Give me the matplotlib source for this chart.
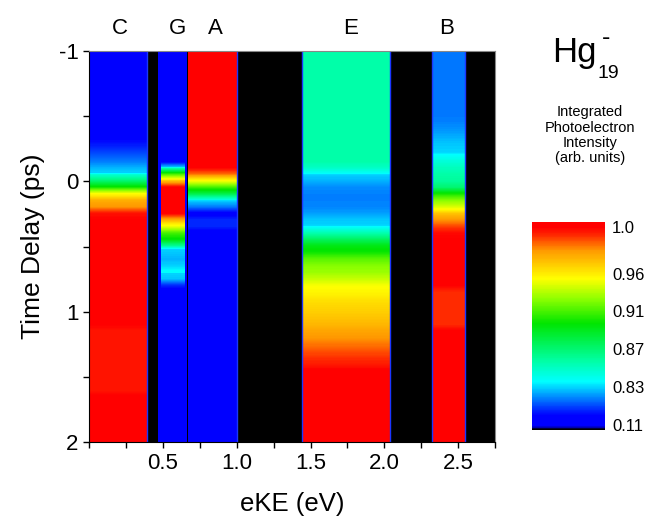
import numpy as np
import matplotlib
matplotlib.use('Agg')
import matplotlib.pyplot as plt
from matplotlib.colors import LinearSegmentedColormap, FuncNorm
from matplotlib.ticker import MultipleLocator

plt.rcParams['font.family'] = ['Liberation Sans', 'DejaVu Sans']
plt.rcParams['axes.unicode_minus'] = False

# time delay grid of the profiles (ps), one row every 0.05 ps
t_first, t_last, t_step = -1.0, 2.0, 0.05

# integrated photoelectron intensity vs. time delay for each band (61 rows)
band_C = ([0.2] * 13
          + [0.25, 0.32, 0.40, 0.50, 0.60, 0.75, 0.845, 0.87, 0.90, 0.955, 0.975, 0.98, 0.997]
          + [1.0] * 17 + [0.996] * 10 + [1.0] * 8)
band_G_outer = 0.2
band_G = ([0.2] * 18
          + [0.85, 0.91, 0.97, 1.0, 1.0, 1.0, 1.0, 1.0, 0.975, 0.95, 0.91, 0.895, 0.86,
             0.80, 0.75, 0.83, 0.838, 0.80, 0.40]
          + [0.2] * 24)
band_A = ([1.0] * 19
          + [0.985, 0.955, 0.91, 0.88, 0.84, 0.60, 0.25, 0.40, 0.40, 0.22]
          + [0.2] * 2 + [0.28] * 2 + [0.2] * 28)
band_E = ([0.857] * 18
          + [0.85, 0.836, 0.75, 0.65, 0.62, 0.62, 0.63, 0.70, 0.80, 0.836, 0.855, 0.875,
             0.893, 0.90, 0.915, 0.925, 0.93, 0.94, 0.952, 0.957, 0.962, 0.965, 0.967,
             0.97, 0.973, 0.977, 0.98, 0.984, 0.988, 0.992, 0.995]
          + [1.0] * 12)
band_B = ([0.6] * 11
          + [0.62, 0.66, 0.72, 0.78, 0.82, 0.836, 0.845, 0.852, 0.857, 0.86, 0.87, 0.90,
             0.925, 0.945, 0.97, 0.98, 0.99, 0.998]
          + [1.0] * 8 + [0.993] * 6 + [1.0] * 18)

# eKE ranges (eV) of the bands
range_C = (0.0, 0.392)
range_G_outer = (0.47, 0.66)
range_G = (0.489, 0.648)
range_A = (0.67, 1.003)
range_E = (1.443, 2.04)
range_B = (2.322, 2.543)

band_names = ['C', 'G', 'A', 'E', 'B']
band_label_x = [0.207, 0.60, 0.853, 1.768, 2.42]

# colour scale: tick values and where they sit on the bar
cbar_ticks = [0.11, 0.83, 0.87, 0.91, 0.96, 1.0]
cbar_ticklabels = ['0.11', '0.83', '0.87', '0.91', '0.96', '1.0']
scale_values = [0.0, 0.11, 0.83, 0.87, 0.91, 0.96, 1.0, 1.005]
scale_levels = [0.0, 0.024, 0.205, 0.387, 0.57, 0.749, 0.976, 1.0]

cmap = LinearSegmentedColormap.from_list('rainbow_origin', [
    (0.0, (0, 0, 0)), (0.012, (0, 0, 0.7)), (0.02, (0, 0, 1)), (0.07, (0, 0, 1)),
    (0.15, (0, 0.5, 1)), (0.232, (0, 1, 1)), (0.33, (0, 1, 0.65)),
    (0.512, (0, 0.9, 0)), (0.63, (0.55, 1, 0)), (0.728, (1, 1, 0)),
    (0.864, (1, 0.6, 0)), (0.94, (1, 0.15, 0)), (0.975, (1, 0, 0)), (1.0, (1, 0, 0))])


def fwd(v):
    return np.interp(v, scale_values, scale_levels)


def inv(v):
    return np.interp(v, scale_levels, scale_values)


norm = FuncNorm((fwd, inv), vmin=0.0, vmax=1.005)

fig = plt.figure(figsize=(6.49, 5.19), dpi=100)
ax = fig.add_axes([0.137, 0.148, 0.626, 0.754])
ax.set_facecolor('black')

extent_t = (t_last + t_step / 2, t_first - t_step / 2)
im = ax.imshow([[band_G_outer]], extent=(*range_G_outer, *extent_t), cmap=cmap, norm=norm,
               aspect='auto', origin='upper')
for (x0, x1), prof in [(range_C, band_C), (range_G, band_G), (range_A, band_A),
                       (range_E, band_E), (range_B, band_B)]:
    ax.imshow(np.array(prof)[:, None], extent=(x0, x1, *extent_t), cmap=cmap, norm=norm,
              interpolation='bilinear', interpolation_stage='data', aspect='auto',
              origin='upper')

edges = [range_C[1], range_A[1], range_E[0], range_E[1], range_B[0], range_B[1]]
ax.vlines(edges, t_first, t_last, colors='#1a36ff', lw=1.0)

ax.set_xlim(0, 2.75)
ax.set_ylim(2, -1)
ax.set_xticks([0.5, 1.0, 1.5, 2.0, 2.5])
ax.set_xticklabels(['0.5', '1.0', '1.5', '2.0', '2.5'])
ax.xaxis.set_minor_locator(MultipleLocator(0.25))
ax.set_yticks([-1, 0, 1, 2])
ax.set_yticklabels(['-1', '0', '1', '2'])
ax.yaxis.set_minor_locator(MultipleLocator(0.5))
ax.tick_params(which='both', direction='out', length=4.5, width=1, labelsize=16, pad=3)
ax.tick_params(top=False, right=False)
for s in ['top', 'right']:
    ax.spines[s].set_color('#888888')
    ax.spines[s].set_linewidth(0.8)

ax.set_xlabel('eKE (eV)', fontsize=18.5, labelpad=13)
ax.set_ylabel('Time Delay (ps)', fontsize=19, labelpad=10)

for name, x in zip(band_names, band_label_x):
    ax.text(x, 1.043, name, transform=ax.get_xaxis_transform(), ha='center',
            va='baseline', fontsize=16)

cax = fig.add_axes([0.82, 0.1715, 0.1125, 0.4008])
cbar = fig.colorbar(im, cax=cax)
cbar.set_ticks(cbar_ticks)
cbar.set_ticklabels(cbar_ticklabels)
cbar.minorticks_off()
cbar.outline.set_visible(False)
cax.tick_params(length=0, labelsize=12, pad=5)

# Hg19- cluster label, built from pieces so the charge sits above the size
fig.text(0.92, 0.881, 'Hg', ha='right', va='baseline', fontsize=25)
fig.text(0.92, 0.849, '19', ha='left', va='baseline', fontsize=14)
fig.text(0.9335, 0.914, '-', ha='center', va='baseline', fontsize=18)
fig.text(0.909, 0.739, 'Integrated\nPhotoelectron\nIntensity\n(arb. units)',
         ha='center', va='center', fontsize=10.5, linespacing=1.12)

fig.savefig('out.png', dpi=100)
